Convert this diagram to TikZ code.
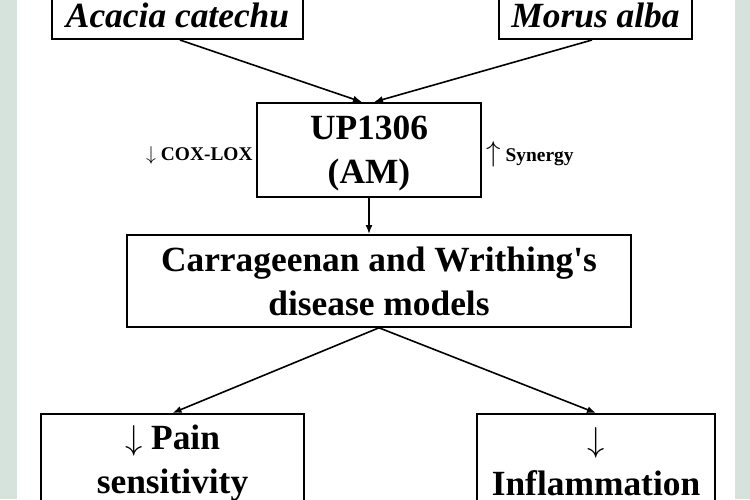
\documentclass[tikz,border=0pt]{standalone}
\usepackage{fontspec}
\setmainfont{Liberation Serif}
\usetikzlibrary{positioning,arrows.meta,calc}
\definecolor{bandgreen}{RGB}{214,227,220}

\begin{document}
\begin{tikzpicture}[x=0.5pt, y=-0.5pt,
    box/.style={draw, line width=0.9pt, fill=white, inner sep=0pt, align=center,
      font=\fontsize{17.7}{22}\selectfont\bfseries},
    conn/.style={-{Latex[length=4.5pt,width=3.5pt]}, line width=0.8pt},
    note/.style={inner sep=0pt, font=\fontsize{9.7}{12}\selectfont\bfseries}]
        \useasboundingbox (0,0) rectangle (750,499);
        \clip (0,0) rectangle (750,499);
        \fill[bandgreen] (0,0) rectangle (17,499);
        \fill[bandgreen] (735,0) rectangle (750,499);

        \node[box, minimum width=125.5pt, text height=18pt, text depth=6pt, anchor=south] (acacia) at (177.5,40) {\itshape Acacia catechu};
        \node[box, minimum width=96.5pt, text height=18pt, text depth=6pt, anchor=south] (morus) at (595.5,40) {\itshape Morus alba};
        \node[box, minimum width=112pt, text height=40.5pt, text depth=6.5pt, anchor=north] (up) at (369,102) {UP1306\\(AM)};
        \node[box, minimum width=252pt, text height=40.5pt, text depth=5.5pt, anchor=north] (model) at (379,234) {Carrageenan and Writhing\textquotesingle s\\disease models};
        \node[box, minimum width=131.5pt, text height=40pt, text depth=13.5pt, anchor=north] (pain) at (172.5,413) {$\downarrow$ Pain\\sensitivity};
        \node[box, minimum width=119pt, text height=41pt, text depth=12.5pt, anchor=north] (inflam) at (596,413) {$\downarrow$\\Inflammation};

        \node[note, anchor=east] (cox) at (253,155) {$\downarrow$ COX-LOX};
        \node[note, anchor=west] (syn) at (486,154) {{\fontsize{14}{14}\selectfont$\uparrow$} Synergy};

        \draw[conn] ([xshift=1.25pt]acacia.south) -- ([xshift=-3.5pt]up.north);
        \draw[conn] ([xshift=-1.75pt]morus.south) -- ([xshift=2.5pt]up.north);
        \draw[conn] (up.south) -- (up.south |- model.north);
        \draw[conn] (model.south) -- (pain.north);
        \draw[conn] (model.south) -- (inflam.north);
    \end{tikzpicture}
\end{document}
